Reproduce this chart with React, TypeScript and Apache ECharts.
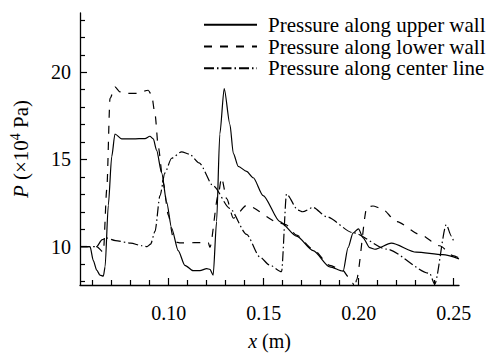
import React, { useEffect, useRef } from "react";
import * as echarts from "echarts";

const upperX = [0.0533, 0.0586, 0.0603, 0.0621, 0.0638, 0.0656, 0.0665, 0.0682, 0.07, 0.0717, 0.0752, 0.0813, 0.0875, 0.0901, 0.0919, 0.0936, 0.0963, 0.0989, 0.1015, 0.105, 0.1085, 0.1129, 0.1164, 0.12, 0.1217, 0.1234, 0.1252, 0.1269, 0.1292, 0.1322, 0.134, 0.1366, 0.141, 0.1445, 0.1497, 0.1585, 0.1673, 0.176, 0.1848, 0.1918, 0.1944, 0.197, 0.1999, 0.2023, 0.2058, 0.2085, 0.2172, 0.2303, 0.2443, 0.2528];
const upperY = [10.0, 10.0, 9.2, 8.65, 8.37, 8.31, 8.84, 12.37, 15.16, 16.46, 16.18, 16.18, 16.2, 16.33, 16.18, 15.53, 14.23, 12.56, 11.07, 9.77, 8.93, 8.62, 8.62, 8.74, 8.7, 8.37, 11.44, 16.46, 19.07, 17.02, 15.35, 14.6, 14.32, 13.95, 12.93, 11.44, 10.6, 9.77, 8.84, 8.59, 9.94, 10.78, 11.02, 10.5, 9.94, 9.85, 10.2, 9.68, 9.54, 9.3];

const lowerX = [0.0533, 0.0621, 0.0656, 0.0674, 0.0691, 0.0717, 0.0743, 0.0778, 0.0831, 0.0892, 0.091, 0.0928, 0.0945, 0.0971, 0.0998, 0.1024, 0.1045, 0.106, 0.1208, 0.1217, 0.126, 0.1278, 0.1305, 0.134, 0.141, 0.1585, 0.1616, 0.1673, 0.176, 0.1848, 0.1918, 0.1944, 0.197, 0.198, 0.1988, 0.2044, 0.2075, 0.212, 0.22, 0.2321, 0.2426, 0.2496, 0.2528];
const lowerY = [10.0, 10.0, 9.68, 13.3, 18.5, 19.16, 18.88, 18.79, 18.79, 18.97, 18.7, 17.58, 15.72, 13.67, 11.81, 10.51, 10.25, 10.22, 10.23, 9.96, 12.93, 13.95, 12.75, 11.63, 12.37, 11.35, 11.26, 10.66, 9.85, 8.92, 8.62, 8.28, 7.9, 7.5, 8.09, 12.28, 12.33, 12.19, 11.44, 10.7, 10.05, 9.49, 9.35];

const centerX = [0.0533, 0.062, 0.065, 0.067, 0.072, 0.08, 0.086, 0.0886, 0.0905, 0.0928, 0.0954, 0.098, 0.1015, 0.1068, 0.111, 0.116, 0.1234, 0.1322, 0.141, 0.148, 0.153, 0.1594, 0.162, 0.1681, 0.1705, 0.176, 0.183, 0.197, 0.2146, 0.2373, 0.24, 0.2461, 0.2488, 0.25];
const centerY = [10.0, 10.0, 10.4, 10.5, 10.35, 10.2, 10.05, 10.0, 10.15, 10.88, 12.93, 14.23, 15.07, 15.44, 15.3, 14.8, 13.49, 12.19, 10.7, 9.4, 8.95, 8.56, 13.02, 12.09, 12.0, 12.25, 11.72, 10.8, 9.86, 8.47, 7.85, 11.26, 10.6, 10.3];

const seriesNames = ["Pressure along upper wall", "Pressure along lower wall", "Pressure along center line"];
const xMajor = [0.1, 0.15, 0.2, 0.25];
const xMinor = [0.06, 0.07, 0.08, 0.09, 0.11, 0.12, 0.13, 0.14, 0.16, 0.17, 0.18, 0.19, 0.21, 0.22, 0.23, 0.24];
const yMajor = [10, 15, 20];
const yMinor = [8, 9, 11, 12, 13, 14, 16, 17, 18, 19, 21, 22, 23];
const X_MIN = 0.0533, X_MAX = 0.2528, Y_MIN = 7.8, Y_MAX = 23.4;

const FONT = '"Liberation Serif"';

const pairs = (xs: number[], ys: number[]) => xs.map((x, i) => [x, ys[i]]);

export default function App() {
  const ref = useRef<HTMLDivElement>(null);
  useEffect(() => {
    if (!ref.current) return;
    const chart = echarts.init(ref.current, undefined, { renderer: "svg" });
    const axisCommon = {
      axisLine: { show: true, lineStyle: { color: "#000", width: 1.3 } },
      splitLine: { show: false },
    };
    const lineStyles = [
      { type: "solid" as const },
      { type: [8, 8] },
      { type: [10, 3, 1.5, 3] },
    ];
    const datasets = [pairs(upperX, upperY), pairs(lowerX, lowerY), pairs(centerX, centerY)];
    chart.setOption({
      animation: false,
      backgroundColor: "#fff",
      textStyle: { fontFamily: FONT, color: "#000" },
      grid: { left: 80, right: 31, top: 13, bottom: 64, containLabel: false },
      legend: {
        orient: "vertical",
        left: 198,
        top: 9,
        itemWidth: 53,
        itemHeight: 14,
        itemGap: 0,
        itemStyle: { opacity: 0 },
        textStyle: { fontFamily: FONT, fontSize: 21, color: "#000", lineHeight: 21.7, padding: [0, 0, 0, 6] },
        data: seriesNames,
      },
      xAxis: [
        {
          type: "value",
          min: X_MIN,
          max: X_MAX,
          position: "bottom",
          ...axisCommon,
          axisTick: { show: true, inside: true, length: 7, customValues: xMajor, lineStyle: { color: "#000", width: 1.2 } },
          axisLabel: {
            customValues: xMajor,
            formatter: (v: number) => v.toFixed(2),
            fontFamily: FONT,
            fontSize: 20,
            color: "#000",
            margin: 18,
          },
          name: "{i|x} (m)",
          nameLocation: "middle",
          nameGap: 46,
          nameTextStyle: {
            fontFamily: FONT,
            fontSize: 20,
            color: "#000",
            rich: { i: { fontStyle: "italic", fontFamily: FONT, fontSize: 20, color: "#000" } },
          },
        },
        {
          type: "value",
          min: X_MIN,
          max: X_MAX,
          position: "bottom",
          axisLine: { show: false },
          splitLine: { show: false },
          axisTick: { show: true, inside: true, length: 5, customValues: xMinor, lineStyle: { color: "#000", width: 1.2 } },
          axisLabel: { show: false },
        },
      ],
      yAxis: [
        {
          type: "value",
          min: Y_MIN,
          max: Y_MAX,
          position: "left",
          ...axisCommon,
          axisTick: { show: true, inside: true, length: 7, customValues: yMajor, lineStyle: { color: "#000", width: 1.2 } },
          axisLabel: {
            customValues: yMajor,
            fontFamily: FONT,
            fontSize: 20,
            color: "#000",
            margin: 9,
          },
          name: "{i|P} (×10{sup|4} Pa)",
          nameLocation: "middle",
          nameGap: 46,
          nameTextStyle: {
            fontFamily: FONT,
            fontSize: 21,
            color: "#000",
            rich: {
              i: { fontStyle: "italic", fontFamily: FONT, fontSize: 21, color: "#000" },
              sup: { fontFamily: FONT, fontSize: 14, color: "#000", padding: [0, 0, 12, 0] },
            },
          },
        },
        {
          type: "value",
          min: Y_MIN,
          max: Y_MAX,
          position: "left",
          axisLine: { show: false },
          splitLine: { show: false },
          axisTick: { show: true, inside: true, length: 5, customValues: yMinor, lineStyle: { color: "#000", width: 1.2 } },
          axisLabel: { show: false },
        },
      ],
      series: seriesNames.map((name, i) => ({
        name,
        type: "line",
        xAxisIndex: 0,
        yAxisIndex: 0,
        data: datasets[i],
        symbol: "none",
        showSymbol: false,
        smooth: 0.25,
        smoothMonotone: "x",
        clip: true,
        lineStyle: { color: "#000", width: 1.2, ...lineStyles[i] },
        itemStyle: { color: "#000" },
      })),
    });
    return () => chart.dispose();
  }, []);
  return <div ref={ref} style={{ width: 490, height: 356, position: "absolute", left: 0, top: 0 }} />;
}
